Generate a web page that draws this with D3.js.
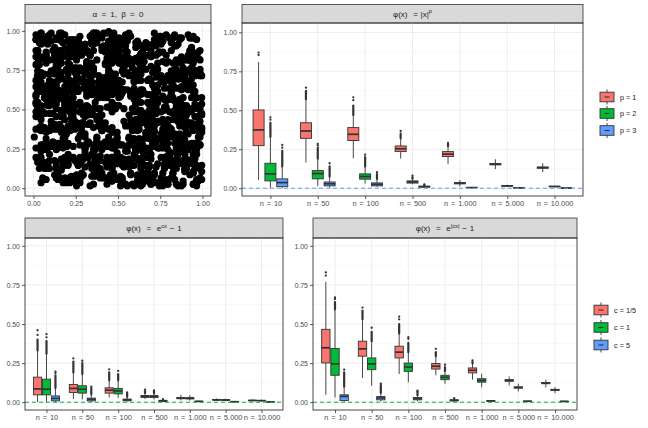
<!DOCTYPE html>
<html><head><meta charset="utf-8">
<script src="https://cdn.jsdelivr.net/npm/d3@7"></script>
<style>
body{margin:0;background:#fff}
svg{display:block}
text{font-family:"Liberation Sans",Arial,Helvetica,sans-serif;white-space:pre}
</style>
</head><body>
<svg id="c" width="648" height="428"></svg>
<script>
// ---------------- data ----------------
const categories = ["n = 10","n = 50","n = 100","n = 500","n = 1.000","n = 5.000","n = 10.000"];
const yTicks = [0, 0.25, 0.5, 0.75, 1];
const yMinorTicks = [0.125, 0.375, 0.625, 0.875];
const scatterTicks = [0, 0.25, 0.5, 0.75, 1];

const powerSeries = ["p = 1","p = 2","p = 3"];
const expSeries = ["c = 1/5","c = 1","c = 5"];
const seriesColors = ["#F8766D","#00BA38","#619CFF"];

// copula sample (alpha = 1, beta = 0): each token "xxyy" -> u = xx/100, v = yy/100
const scatterRows = [
"4817 0392 7756 2148 9063 3521 6689 1274 5930 8416 2705 7342 0158 9621 4473 3896 6019 1587 8234 5760",
"2963 7108 4451 9837 0625 5392 8174 3046 6710 1289 9553 4087 7231 0964 5618 2375 8802 6143 3497 1926",
"7034 1582 9267 4619 0853 6345 2791 8106 5478 3920 1264 7637 9015 4382 6759 0498 8521 2833 5106 9674",
"1459 8726 3067 5391 9812 0274 6635 4158 7943 2306 8569 1817 5342 9081 0736 3654 7290 4915 2467 6182",
"8390 2615 6742 0187 4526 9953 1378 7804 3261 5639 0912 8445 2776 6023 9357 4709 1648 5182 7534 0861",
"5627 3908 1153 7486 2839 6071 9402 0735 4568 8214 3697 7050 6381 1926 5714 2248 8573 0319 9846 4672",
"2086 6543 8971 3219 5740 1395 7028 4661 9317 0483 6859 2106 4432 8795 1561 7924 3187 9450 0728 5313",
"9741 1275 4398 6823 0154 7506 3867 8912 2245 5679 8034 4351 0786 6118 3493 9827 5260 1645 7971 2508",
"6318 4850 0726 9162 7593 2437 5081 1394 8729 4065 1408 9732 6057 3384 7719 0253 4586 8910 2442 6675",
"3592 8137 5861 1405 6248 8779 0312 5646 3970 7203 9545 1888 4229 0561 8804 6136 2473 3709 9141 5484",
"0865 3421 9614 5758 2093 4326 8650 6983 1217 9540 2874 5107 7431 4765 1098 8422 0756 9389 3613 6947",
"7213 9694 2038 8371 4706 1059 5383 3616 6942 2275 4508 7831 0164 9496 5827 2150 6483 1714 8048 3371",
"4679 0962 7385 2617 9842 6193 3527 9850 0183 5416 7749 3072 8305 1638 4961 7294 9527 5850 2183 0516",
"1934 6207 0452 9685 3178 8412 6745 2079 4302 7635 0968 6291 3524 8857 2190 5423 1756 4089 6312 9645",
"8156 2583 5709 4036 7361 0694 1927 7251 5586 2818 9141 4475 6708 0032 7365 3698 8921 0254 3587 1819",
"5490 7816 8243 1579 0825 3158 9482 4715 7049 0372 6605 8938 2261 5594 4827 1153 6486 7719 1042 8375",
"2727 4059 3591 6824 8056 5381 2614 0947 9273 6506 3839 1162 7496 4729 9052 6385 3618 2941 5274 4507",
"9063 1394 6825 8157 5482 7713 4046 6378 1611 3945 5278 7502 9835 2168 0491 8724 5057 9380 0613 6946",
"6381 8625 1958 3286 2719 9042 7375 5708 3032 8369 0693 3926 4259 6583 8816 1140 0473 4806 7139 1462",
"3712 5956 7284 0513 6847 2178 0506 1831 8265 4798 2021 6354 1687 9012 3348 5671 7904 2237 8569 4893",
"0548 2287 4619 7942 9275 4506 6831 3164 5496 1725 7059 9381 5615 3946 6279 2503 9836 6160 4492 7825",
"7879 9518 0347 4672 1806 6937 8263 7592 0724 5059 3385 4618 2940 7276 5501 9834 1167 3491 6723 2056",
"4106 6849 9872 1308 5631 8265 1594 3926 8257 2588 6813 1147 9479 0705 1038 6362 4695 7928 0251 9584",
"1437 3172 5101 8634 2968 0396 4729 9051 6382 3715 9046 7379 4612 8943 7274 3508 8831 2164 5497 3729",
"8764 0403 2639 5967 9295 7627 3950 2283 1618 9946 0279 8501 1834 6168 4493 0729 5052 9384 1617 6948",
"5095 7734 6968 2291 4527 1852 9184 4416 8741 7073 3502 5836 8167 2394 9728 7055 2389 4613 8946 0271",
"2326 4065 0194 9528 6853 3180 5416 8647 2072 6301 7735 2068 4390 9625 0959 4286 9512 7841 3178 5402",
"3051 7486 1129 6690 8843 2417 5972 0338 9605 4751 1284 6023 7819 3546 0997 5362 8170 2489 4635 9208",
"6724 0159 4386 8911 2570 7043 9835 1698 5227 3864 7401 0582 2946 8715 6139 4270 1853 9524 3368 7693",
"1897 5362 7740 3025 9481 6156 0613 8279 4852 2138 5796 9341 3607 1975 8452 0726 6384 2017 7751 4499",
"8463 2908 0615 5573 3732 9197 6481 4024 1350 7869 2207 4638 9124 5781 0419 6853 3596 8132 5068 1345",
"4238 9571 6082 1746 7315 0864 2693 5439 8917 3152 6580 1026 4461 7897 2733 9065 0548 3781 9914 6227",
"0972 3615 8349 6108 4886 5523 1240 7767 3091 9438 0856 8213 5679 2341 6902 1187 7425 4659 2083 8516",
"7159 6043 2788 4365 0527 3910 8652 2136 6419 0784 9573 3598 1832 7006 4270 8843 5119 1468 6791 3022",
"5516 1828 9267 0693 6140 8479 4313 9887 2769 5205 3341 7065 8418 4932 1586 5760 9957 6305 0271 2748",
"2684 8397 3912 7836 9063 1645 7028 0451 5593 6977 1829 2452 6104 9369 3745 0286 2614 8872 4587 5931",
"2918 0467 6634 7851 1382 9905 4426 3179 8750 5613 0294 7548 3087 6921 9362 1805 5743 4190 7026 2581",
"6053 3792 9127 0346 4589 8214 2675 5938 0461 7109 3857 6692 9410 1573 4216 8038 0779 2564 6305 9947",
"1486 7629 3251 9875 6704 2136 8591 0423 5968 3347 7712 1056 4895 9328 2661 5087 8134 3709 0952 6478",
"7325 4198 8069 2753 0936 5482 1817 7604 3150 9881 6523 0279 2748 8095 5416 1962 9387 6231 4579 0714",
"4660 9035 0784 6318 8247 1571 6902 3465 9038 2796 0145 8632 5971 3407 7829 4263 1598 9074 3826 5350",
"0197 2841 5526 8063 3479 7915 2350 9782 6614 0427 8968 3301 1745 6089 0153 7596 4922 2348 8763 1635",
"8542 6376 1903 4590 7128 0657 9286 5019 2347 8762 4095 5814 9250 0638 6081 3472 2809 7135 5614 9226",
"3871 0514 7342 1769 5093 9428 4765 2106 8531 6948 1272 9657 3086 4319 2754 8187 6443 0592 1928 4061",
"5214 8653 2975 6102 9438 3867 0592 7341 4726 1053 8481 2839 6107 5562 9935 0378 3624 5901 7255 8717",
"9739 1286 6418 3857 2605 7194 5831 0672 1059 4306 3743 7198 0425 8876 1312 6739 4058 9481 0896 2344",
"1065 5921 8753 0494 6372 4819 3146 8523 7980 2617 5204 0561 9938 2275 7658 3091 8425 1864 6240 7592",
"6402 3148 0287 7625 4931 2576 8014 6359 3798 9134 0657 4982 2319 7643 5086 9421 0857 6203 3574 1968",
"2786 9475 5314 1968 8057 6302 1649 4981 6325 5760 9183 1428 7756 0194 3538 2867 7293 5632 8019 4357",
"8431 0612 3965 8209 1586 9937 7270 2605 0148 3493 4826 8159 1572 4905 6283 5716 2049 9384 4761 0125",
"9348 2716 5087 1462 3925 7693 0264 8531 6719 4058 2386 9827 1540 5163 7402 6987 0815 3379 8656 4241",
"1673 6025 8490 3758 7136 0482 5914 2267 9388 1703 4659 6314 0981 8526 3240 7855 5127 2093 6768 9419",
"5802 4369 0731 9215 2684 6547 3179 7920 1456 8833 6038 2571 7763 0119 9495 3842 4604 1237 5981 7356",
"3127 9584 6249 0815 8570 3396 7641 1208 4935 6374 0862 5117 2493 9750 1628 6081 8334 4869 0216 2775",
"7591 0853 4416 5362 1093 8728 2357 6584 0712 3246 9181 4790 6625 8034 5372 2516 3967 7148 9409 5682",
"0436 6217 9873 2194 5631 4965 8402 3718 7257 5089 1324 7643 3906 2461 8783 9150 6427 0571 4238 1814",
"6280 3942 1365 7609 4128 2453 5716 9971 3034 0498 7567 1126 8849 6372 2015 4604 0953 5487 1792 8328",
"2014 7571 5698 4327 9652 6039 1783 0246 8475 3812 4929 8355 0168 1594 7247 5839 9376 2103 6560 3091",
"8769 1306 3024 8852 0287 5716 6349 4683 2918 9561 7156 0472 5395 3850 9601 1328 4872 8746 3013 6507",
"4725 5948 7163 1039 6814 9287 3550 8122 5681 1476 2703 6918 4037 7229 0564 8695 2241 3315 7884 0962",
"1358 8192 2807 6483 3576 0921 9465 5830 6174 4009 8542 3761 1693 9027 5318 2476 7805 6148 0439 4573",
"9910 4665 6531 3276 7403 8158 0694 1987 3229 7354 5876 9402 2817 4568 6941 0137 3459 9624 5182 2836",
"3562 2039 0178 9740 5291 3467 8823 6514 9806 2631 1425 5079 7348 0896 4157 6280 8716 1353 2694 7005",
"7047 6784 4329 5115 1968 6832 2501 4279 0647 8915 6368 2244 9583 3731 8206 4952 1074 5487 9832 1660",
"2485 1356 8642 0593 4437 9704 6275 3128 7519 5842 0917 7686 3160 6423 5879 1314 6541 8295 4068 3729",
"6139 7902 1056 4867 8725 2389 4648 9457 1394 0261 8730 4513 6092 2884 9436 7601 3267 0852 7715 5158",
"0893 3471 5728 8209 2164 6053 7902 1736 5480 3917 2349 8872 4625 1558 7091 3384 5963 4027 1506 8694",
"4654 9018 3187 2541 6390 0816 3459 8063 2752 6584 7126 1935 8701 5267 0443 9572 2138 6869 9386 3045",
"8217 2685 9461 6932 1843 4278 6024 3597 8160 1731 3598 6409 0254 9786 4915 2153 7680 3412 6237 9871",
"5376 6240 2594 3718 7055 8639 1281 5842 4036 9395 6754 2028 3817 6462 1679 8930 5206 7154 0891 4567"
];

// box stats per category: [lower whisker, Q1, median, Q3, upper whisker]
// Dense: top of the dense column of outliers; Out: isolated outliers
const powP1Box = [[0.053,0.273,0.374,0.502,0.81],[0.165,0.320,0.367,0.420,0.57],[0.192,0.306,0.346,0.389,0.47],[0.190,0.235,0.253,0.271,0.32],[0.154,0.203,0.219,0.235,0.27],[0.122,0.150,0.154,0.158,0.186],[0.103,0.128,0.132,0.136,0.160]];
const powP1Dense = [0.81,0.625,0.53,0.35,0.28,0.186,0.16];
const powP1Out = [[0.855,0.87],[0.645],[0.565,0.583],[0.367],[0.29],[],[]];
const powP2Box = [[0.003,0.047,0.092,0.160,0.33],[0.015,0.060,0.094,0.113,0.19],[0.030,0.058,0.075,0.092,0.14],[0.025,0.033,0.040,0.047,0.06],[0.012,0.028,0.032,0.036,0.052],[0.008,0.013,0.015,0.017,0.022],[0.006,0.010,0.011,0.012,0.016]];
const powP2Dense = [0.42,0.26,0.20,0.07,0.052,0.022,0.016];
const powP2Out = [[0.44,0.455],[0.275,0.284],[0.215],[0.08],[],[],[]];
const powP3Box = [[0.000,0.010,0.036,0.060,0.14],[0.003,0.015,0.028,0.040,0.075],[0.008,0.015,0.025,0.034,0.06],[0.004,0.007,0.010,0.013,0.018],[0.001,0.003,0.004,0.005,0.007],[0.0005,0.0015,0.002,0.0025,0.0035],[0.0003,0.0008,0.001,0.0012,0.002]];
const powP3Dense = [0.24,0.14,0.09,0.022,0.007,0.0035,0.002];
const powP3Out = [[0.26,0.278],[0.16],[0.103],[0.025],[],[],[]];

const expC1Box = [[0.000,0.047,0.085,0.160,0.33],[0.020,0.062,0.088,0.113,0.19],[0.030,0.058,0.077,0.092,0.14],[0.020,0.030,0.038,0.043,0.058],[0.011,0.022,0.026,0.030,0.047],[0.008,0.013,0.015,0.017,0.024],[0.006,0.010,0.011,0.012,0.017]];
const expC1Dense = [0.40,0.26,0.19,0.07,0.047,0.024,0.017];
const expC1Out = [[0.43,0.46],[0.28],[0.21],[0.08],[],[],[]];
const expC2Box = [[0.000,0.047,0.083,0.147,0.31],[0.018,0.058,0.083,0.105,0.18],[0.028,0.053,0.072,0.088,0.14],[0.018,0.030,0.036,0.042,0.056],[0.010,0.021,0.025,0.029,0.045],[0.007,0.012,0.014,0.016,0.022],[0.005,0.009,0.010,0.011,0.016]];
const expC2Dense = [0.39,0.25,0.18,0.068,0.045,0.022,0.016];
const expC2Out = [[0.415,0.435],[0.265],[0.20],[0.075],[],[],[]];
const expC3Box = [[0.000,0.008,0.024,0.040,0.09],[0.002,0.008,0.018,0.026,0.05],[0.004,0.009,0.015,0.020,0.035],[0.001,0.004,0.008,0.012,0.018],[0.002,0.004,0.005,0.006,0.009],[0.001,0.0025,0.003,0.0035,0.005],[0.0008,0.0015,0.002,0.0025,0.003]];
const expC3Dense = [0.17,0.09,0.055,0.02,0.009,0.005,0.003];
const expC3Out = [[0.185,0.196],[0.10],[0.062],[],[],[],[]];

const absC1Box = [[0.047,0.251,0.348,0.466,0.77],[0.155,0.294,0.341,0.390,0.53],[0.180,0.283,0.320,0.358,0.44],[0.172,0.212,0.230,0.247,0.294],[0.144,0.187,0.204,0.219,0.247],[0.107,0.134,0.139,0.144,0.165],[0.094,0.118,0.122,0.126,0.144]];
const absC1Dense = [0.77,0.585,0.50,0.32,0.258,0.165,0.144];
const absC1Out = [[0.81,0.83],[0.605],[0.53,0.547],[0.341],[0.268],[],[]];
const absC2Box = [[0.030,0.172,0.245,0.343,0.594],[0.105,0.208,0.245,0.283,0.39],[0.127,0.197,0.225,0.250,0.32],[0.118,0.144,0.159,0.172,0.20],[0.095,0.128,0.139,0.150,0.182],[0.069,0.090,0.094,0.098,0.118],[0.058,0.076,0.079,0.082,0.097]];
const absC2Dense = [0.64,0.45,0.38,0.225,0.182,0.118,0.097];
const absC2Out = [[0.66,0.67],[0.476],[0.405,0.416],[0.24],[],[],[]];
const absC3Box = [[0.003,0.011,0.037,0.047,0.10],[0.005,0.015,0.027,0.036,0.06],[0.006,0.015,0.023,0.030,0.045],[0.003,0.008,0.012,0.015,0.022],[0.003,0.006,0.008,0.010,0.013],[0.002,0.005,0.006,0.007,0.009],[0.002,0.004,0.005,0.006,0.008]];
const absC3Dense = [0.19,0.11,0.068,0.026,0.013,0.009,0.008];
const absC3Out = [[0.208],[0.118],[0.073],[],[],[],[]];

// ---------------- drawing ----------------
const svg = d3.select("#c");
const DARK = "#333333", GRID = "#EBEBEB", GRIDMINOR = "#F3F3F3", AXTXT = "#4D4D4D";

function strip(x0, x1, sTop, y0, parts, wordSpacing){
  svg.append("rect").attr("x", x0).attr("y", sTop).attr("width", x1 - x0).attr("height", y0 - sTop)
    .attr("fill", "#D9D9D9").attr("stroke", DARK).attr("stroke-width", 0.8);
  const t = svg.append("text").attr("x", (x0 + x1) / 2).attr("y", (sTop + y0) / 2 + 2.8)
    .attr("text-anchor", "middle").attr("font-size", 8).attr("fill", "#1A1A1A")
    .style("word-spacing", (wordSpacing || 0) + "px");
  let up = false;
  parts.forEach(p => {
    const ts = t.append("tspan").text(p.t);
    if (p.sup) { ts.attr("font-size", 5.8); if (!up) { ts.attr("dy", -3.2); up = true; } }
    else if (up) { ts.attr("dy", 3.2); up = false; }
  });
}

function styleAxis(size, ws){
  return g => {
    g.attr("font-family", null).attr("font-size", null);
    g.select(".domain").remove();
    g.selectAll(".tick line").attr("stroke", DARK).attr("stroke-width", 0.8);
    g.selectAll(".tick text").attr("fill", AXTXT).attr("font-size", size).style("word-spacing", (ws || 0) + "px");
  };
}

function panelFrame(x0, x1, y0, y1){
  svg.append("rect").attr("x", x0).attr("y", y0).attr("width", x1 - x0).attr("height", y1 - y0)
    .attr("fill", "none").attr("stroke", DARK).attr("stroke-width", 0.9);
}

function scatterPanel(x0, x1, sTop, y0, y1){
  strip(x0, x1, sTop, y0, [{t:"\u03B1 = 1, \u03B2 = 0"}], 2);
  const x = d3.scaleLinear().domain([-0.05, 1.05]).range([x0, x1]);
  const y = d3.scaleLinear().domain([-0.05, 1.05]).range([y1, y0]);
  const g = svg.append("g");
  g.append("g").selectAll("line").data(yMinorTicks).join("line").attr("x1", d => x(d)).attr("x2", d => x(d))
    .attr("y1", y0).attr("y2", y1).attr("stroke", GRIDMINOR).attr("stroke-width", 0.5);
  g.append("g").selectAll("line").data(yMinorTicks).join("line").attr("y1", d => y(d)).attr("y2", d => y(d))
    .attr("x1", x0).attr("x2", x1).attr("stroke", GRIDMINOR).attr("stroke-width", 0.5);
  g.append("g").selectAll("line").data(scatterTicks).join("line").attr("x1", d => x(d)).attr("x2", d => x(d))
    .attr("y1", y0).attr("y2", y1).attr("stroke", GRID).attr("stroke-width", 0.9);
  g.append("g").selectAll("line").data(yTicks).join("line").attr("y1", d => y(d)).attr("y2", d => y(d))
    .attr("x1", x0).attr("x2", x1).attr("stroke", GRID).attr("stroke-width", 0.9);
  const pts = scatterRows.join(" ").trim().split(/\s+/)
    .map(s => [(+s.slice(0, 2) + 0.5) / 100, (+s.slice(2, 4) + 0.5) / 100]);
  g.append("g").selectAll("circle").data(pts).join("circle")
    .attr("cx", d => x(d[0])).attr("cy", d => y(d[1])).attr("r", 3.6).attr("fill", "#000");
  panelFrame(x0, x1, y0, y1);
  svg.append("g").attr("transform", `translate(0,${y1})`)
    .call(d3.axisBottom(x).tickValues(scatterTicks).tickFormat(d3.format(".2f")).tickSize(3).tickPadding(2)).call(styleAxis(7));
  svg.append("g").attr("transform", `translate(${x0},0)`)
    .call(d3.axisLeft(y).tickValues(yTicks).tickFormat(d3.format(".2f")).tickSize(3).tickPadding(2)).call(styleAxis(7));
}

function boxPanel(cfg){
  const {x0, x1, sTop, y0, y1, title, series, refColor, yTop} = cfg;
  strip(x0, x1, sTop, y0, title, 0.6);
  const x = d3.scalePoint().domain(categories).range([x0, x1]).padding(0.6);
  const y = d3.scaleLinear().domain([-0.05, yTop]).range([y1, y0]);
  const step = x.step();
  const bw = step * 0.75 / series.length;
  const g = svg.append("g");
  g.append("g").selectAll("line").data(yMinorTicks).join("line").attr("y1", d => y(d)).attr("y2", d => y(d))
    .attr("x1", x0).attr("x2", x1).attr("stroke", GRIDMINOR).attr("stroke-width", 0.5);
  g.append("g").selectAll("line").data(yTicks).join("line").attr("y1", d => y(d)).attr("y2", d => y(d))
    .attr("x1", x0).attr("x2", x1).attr("stroke", GRID).attr("stroke-width", 0.9);
  g.append("g").selectAll("line").data(categories).join("line").attr("x1", d => x(d)).attr("x2", d => x(d))
    .attr("y1", y0).attr("y2", y1).attr("stroke", GRID).attr("stroke-width", 0.9);

  categories.forEach((cat, ci) => {
    series.forEach((s, si) => {
      const st = s.box[ci];
      const cx = x(cat) + (si - (series.length - 1) / 2) * bw;
      const bg = g.append("g");
      if (s.dense[ci] > st[4]) {
        bg.append("line").attr("x1", cx).attr("x2", cx).attr("y1", y(st[4])).attr("y2", y(s.dense[ci]))
          .attr("stroke", DARK).attr("stroke-width", 2.2).attr("stroke-linecap", "round");
      }
      bg.selectAll("circle").data(s.out[ci]).join("circle").attr("cx", cx).attr("cy", d => y(d))
        .attr("r", 1.15).attr("fill", DARK);
      bg.append("line").attr("x1", cx).attr("x2", cx).attr("y1", y(st[0])).attr("y2", y(st[1]))
        .attr("stroke", DARK).attr("stroke-width", 0.9);
      bg.append("line").attr("x1", cx).attr("x2", cx).attr("y1", y(st[3])).attr("y2", y(st[4]))
        .attr("stroke", DARK).attr("stroke-width", 0.9);
      bg.append("rect").attr("x", cx - bw / 2 + 0.4).attr("width", bw - 0.8)
        .attr("y", y(st[3])).attr("height", Math.max(0.01, y(st[1]) - y(st[3])))
        .attr("fill", s.color).attr("stroke", DARK).attr("stroke-width", 0.9);
      bg.append("line").attr("x1", cx - bw / 2 + 0.4).attr("x2", cx + bw / 2 - 0.4)
        .attr("y1", y(st[2])).attr("y2", y(st[2])).attr("stroke", DARK).attr("stroke-width", 1.7);
    });
  });
  g.append("line").attr("x1", x0).attr("x2", x1).attr("y1", y(0)).attr("y2", y(0))
    .attr("stroke", refColor).attr("stroke-width", 1.1).attr("stroke-dasharray", "4,3");
  panelFrame(x0, x1, y0, y1);
  svg.append("g").attr("transform", `translate(0,${y1})`)
    .call(d3.axisBottom(x).tickSize(3).tickPadding(2)).call(styleAxis(7.4, 0.8));
  svg.append("g").attr("transform", `translate(${x0},0)`)
    .call(d3.axisLeft(y).tickValues(yTicks).tickFormat(d3.format(".2f")).tickSize(3).tickPadding(2)).call(styleAxis(7));
}

function legend(kx, centers, labels, colors){
  labels.forEach((lab, i) => {
    const c = centers[i];
    const g = svg.append("g");
    g.append("line").attr("x1", kx + 7).attr("x2", kx + 7).attr("y1", c - 7.5).attr("y2", c + 7.5)
      .attr("stroke", DARK).attr("stroke-width", 0.9);
    g.append("rect").attr("x", kx).attr("y", c - 4.8).attr("width", 14).attr("height", 9.6)
      .attr("fill", colors[i]).attr("stroke", DARK).attr("stroke-width", 0.9);
    g.append("line").attr("x1", kx + 4.5).attr("x2", kx + 9.5).attr("y1", c).attr("y2", c)
      .attr("stroke", DARK).attr("stroke-width", 1.1);
    g.append("text").attr("x", kx + 20).attr("y", c + 2.6).attr("font-size", 7.3).attr("fill", "#1A1A1A").text(lab);
  });
}

scatterPanel(25, 211, 4.5, 23, 196);

boxPanel({x0: 242, x1: 583, sTop: 4.5, y0: 23, y1: 196, yTop: 1.06, refColor: "#619CFF",
  title: [{t:"\u03C6(x)  = |x|"}, {t:"p", sup:true}],
  series: [
    {box: powP1Box, dense: powP1Dense, out: powP1Out, color: seriesColors[0]},
    {box: powP2Box, dense: powP2Dense, out: powP2Out, color: seriesColors[1]},
    {box: powP3Box, dense: powP3Dense, out: powP3Out, color: seriesColors[2]}]});

boxPanel({x0: 25, x1: 283, sTop: 218, y0: 238, y1: 410, yTop: 1.05, refColor: "#00BA38",
  title: [{t:"\u03C6(x)  =  e"}, {t:"cx", sup:true}, {t:" \u2212 1"}],
  series: [
    {box: expC1Box, dense: expC1Dense, out: expC1Out, color: seriesColors[0]},
    {box: expC2Box, dense: expC2Dense, out: expC2Out, color: seriesColors[1]},
    {box: expC3Box, dense: expC3Dense, out: expC3Out, color: seriesColors[2]}]});

boxPanel({x0: 313, x1: 577, sTop: 218, y0: 238, y1: 410, yTop: 1.05, refColor: "#00BA38",
  title: [{t:"\u03C6(x)  =  e"}, {t:"|cx|", sup:true}, {t:" \u2212 1"}],
  series: [
    {box: absC1Box, dense: absC1Dense, out: absC1Out, color: seriesColors[0]},
    {box: absC2Box, dense: absC2Dense, out: absC2Out, color: seriesColors[1]},
    {box: absC3Box, dense: absC3Dense, out: absC3Out, color: seriesColors[2]}]});

legend(600, [97, 113.5, 130.5], powerSeries, seriesColors);
legend(594, [310, 327.5, 345], expSeries, seriesColors);
</script>
</body></html>
